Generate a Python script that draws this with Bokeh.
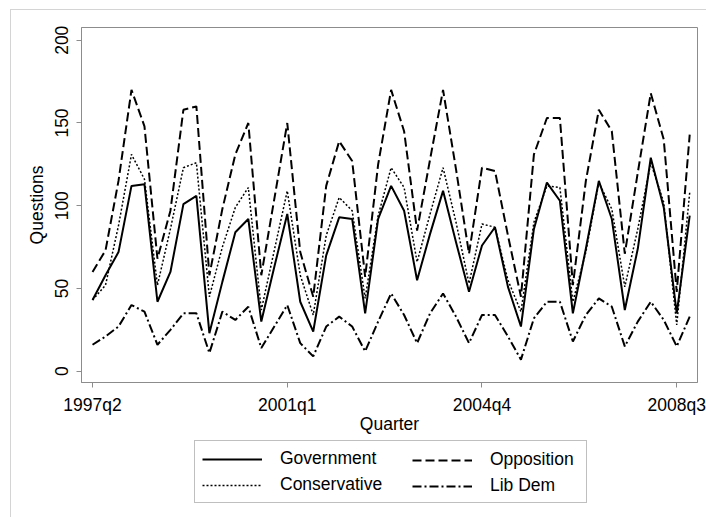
from bokeh.plotting import figure
from bokeh.layouts import column
from bokeh.models import Range1d, FixedTicker, Legend, LegendItem, ColumnDataSource
from bokeh.embed import file_html
from bokeh.resources import INLINE

# ---- data -------------------------------------------------------------
quarters = ["1997q2", "1997q3", "1997q4", "1998q1", "1998q2", "1998q3", "1998q4",
            "1999q1", "1999q2", "1999q3", "1999q4", "2000q1", "2000q2", "2000q3",
            "2000q4", "2001q1", "2001q2", "2001q3", "2001q4", "2002q1", "2002q2",
            "2002q3", "2002q4", "2003q1", "2003q2", "2003q3", "2003q4", "2004q1",
            "2004q2", "2004q3", "2004q4", "2005q1", "2005q2", "2005q3", "2005q4",
            "2006q1", "2006q2", "2006q3", "2006q4", "2007q1", "2007q2", "2007q3",
            "2007q4", "2008q1", "2008q2", "2008q3", "2008q4"]
tick_labels = ["1997q2", "2001q1", "2004q4", "2008q3"]
y_ticks = [0, 50, 100, 150, 200]

government = [43, 58, 72, 112, 113, 42, 60, 101, 106, 23, 54, 84, 92, 30, 63, 95,
              42, 24, 70, 93, 92, 35, 92, 112, 97, 55, 83, 109, 78, 48, 76, 87,
              51, 27, 86, 114, 103, 35, 74, 115, 92, 37, 74, 129, 99, 35, 94]
opposition = [60, 73, 115, 170, 148, 68, 97, 158, 160, 58, 98, 131, 150, 58, 104, 150,
              72, 45, 112, 139, 127, 57, 125, 170, 145, 85, 128, 170, 122, 71, 123, 121,
              82, 45, 131, 153, 153, 52, 115, 158, 145, 71, 120, 168, 140, 48, 143]
conservative = [43, 52, 88, 131, 116, 52, 86, 123, 126, 45, 75, 99, 111, 37, 73, 109,
                58, 34, 82, 105, 97, 44, 94, 123, 111, 66, 95, 123, 90, 53, 89, 87,
                55, 36, 90, 112, 111, 42, 72, 114, 98, 51, 86, 126, 102, 28, 108]
libdem = [16, 21, 27, 40, 36, 16, 25, 35, 35, 11, 36, 31, 39, 14, 27, 40,
          17, 9, 27, 33, 27, 12, 30, 47, 34, 17, 35, 47, 33, 17, 34, 34,
          21, 7, 32, 42, 42, 18, 34, 44, 39, 15, 30, 42, 31, 15, 33]

# ---- styles -----------------------------------------------------------
FONT = "Liberation Sans"
FSIZE = "17.5px"
GREY = "#8c8c8c"
STYLES = {
    "Government":   dict(line_color="black", line_width=2),
    "Opposition":   dict(line_color="black", line_width=2, line_dash="9 4"),
    "Conservative": dict(line_color="black", line_width=1.5, line_dash="2 2"),
    "Lib Dem":      dict(line_color="black", line_width=2, line_dash="9 3 2 3"),
}

x_index = list(range(len(quarters)))
tick_positions = [quarters.index(t) for t in tick_labels]

src = ColumnDataSource(dict(x=x_index, gov=government, opp=opposition,
                            con=conservative, lib=libdem))

# ---- main chart -------------------------------------------------------
p = figure(width=706, height=436, output_backend="svg", toolbar_location=None,
           x_range=Range1d(-0.85, 46.6), y_range=Range1d(-6.8, 207.7),
           min_border_left=81, min_border_right=9, min_border_top=27,
           min_border_bottom=53)
p.background_fill_color = "white"
p.border_fill_color = None
p.outline_line_color = GREY
p.outline_line_width = 1
p.grid.visible = False
p.stylesheets = [":host { box-shadow: inset 10px 9px 0 0 #ffffff, inset 11px 10px 0 0 #d4d4d4; }"]

p.line("x", "gov", source=src, **STYLES["Government"])
p.line("x", "opp", source=src, **STYLES["Opposition"])
p.line("x", "con", source=src, **STYLES["Conservative"])
p.line("x", "lib", source=src, **STYLES["Lib Dem"])

xa = p.xaxis[0]
xa.ticker = FixedTicker(ticks=tick_positions)
xa.major_label_overrides = {pos: lab for pos, lab in zip(tick_positions, tick_labels)}
xa.axis_label = "Quarter"
xa.major_label_standoff = 7
xa.axis_label_standoff = -4

ya = p.yaxis[0]
ya.ticker = FixedTicker(ticks=y_ticks)
ya.axis_label = "Questions"
ya.major_label_orientation = "vertical"
ya.major_label_standoff = 8
ya.axis_label_standoff = 6

for ax in (xa, ya):
    ax.axis_line_color = GREY
    ax.major_tick_line_color = GREY
    ax.major_tick_out = 5
    ax.major_tick_in = 0
    ax.minor_tick_line_color = None
    ax.major_label_text_font = FONT
    ax.major_label_text_font_size = FSIZE
    ax.major_label_text_color = "black"
    ax.axis_label_text_font = FONT
    ax.axis_label_text_font_size = FSIZE
    ax.axis_label_text_font_style = "normal"
    ax.axis_label_text_color = "black"

# ---- legend strip below the chart ------------------------------------
leg = figure(width=706, height=81, output_backend="svg", toolbar_location=None,
             x_range=Range1d(0, 1), y_range=Range1d(0, 1),
             x_axis_location=None, y_axis_location=None,
             min_border_left=0, min_border_right=0, min_border_top=0,
             min_border_bottom=0)
leg.outline_line_color = None
leg.grid.visible = False
leg.background_fill_color = None
leg.border_fill_color = None
leg.stylesheets = [":host { box-shadow: inset 10px 0 0 0 #ffffff, inset 11px 0 0 0 #d4d4d4; }"]

# legend-only swatch renderers (no visible points)
nan = float("nan")
swatch = {name: leg.line(x=[nan], y=[nan], **sty) for name, sty in STYLES.items()}

common = dict(orientation="vertical", glyph_width=60, glyph_height=20, label_height=20,
              label_standoff=18, spacing=5, padding=7, margin=0,
              label_text_font=FONT, label_text_font_size=FSIZE,
              label_text_color="black")

# left column carries the shared frame of the legend box
legend_left = Legend(items=[LegendItem(label="Government", renderers=[swatch["Government"]]),
                            LegendItem(label="Conservative", renderers=[swatch["Conservative"]])],
                     location=(113, 14), label_width=299,
                     border_line_color="#808080", border_line_width=1,
                     background_fill_color="white", background_fill_alpha=1.0,
                     **common)
legend_right = Legend(items=[LegendItem(label="Opposition", renderers=[swatch["Opposition"]]),
                             LegendItem(label="Lib Dem", renderers=[swatch["Lib Dem"]])],
                      location=(331, 21), border_line_color=None,
                      background_fill_alpha=0.0, **common)
leg.add_layout(legend_left)
leg.add_layout(legend_right)

layout = column(p, leg, spacing=0)
open("out.html", "w").write(file_html(layout, INLINE))
